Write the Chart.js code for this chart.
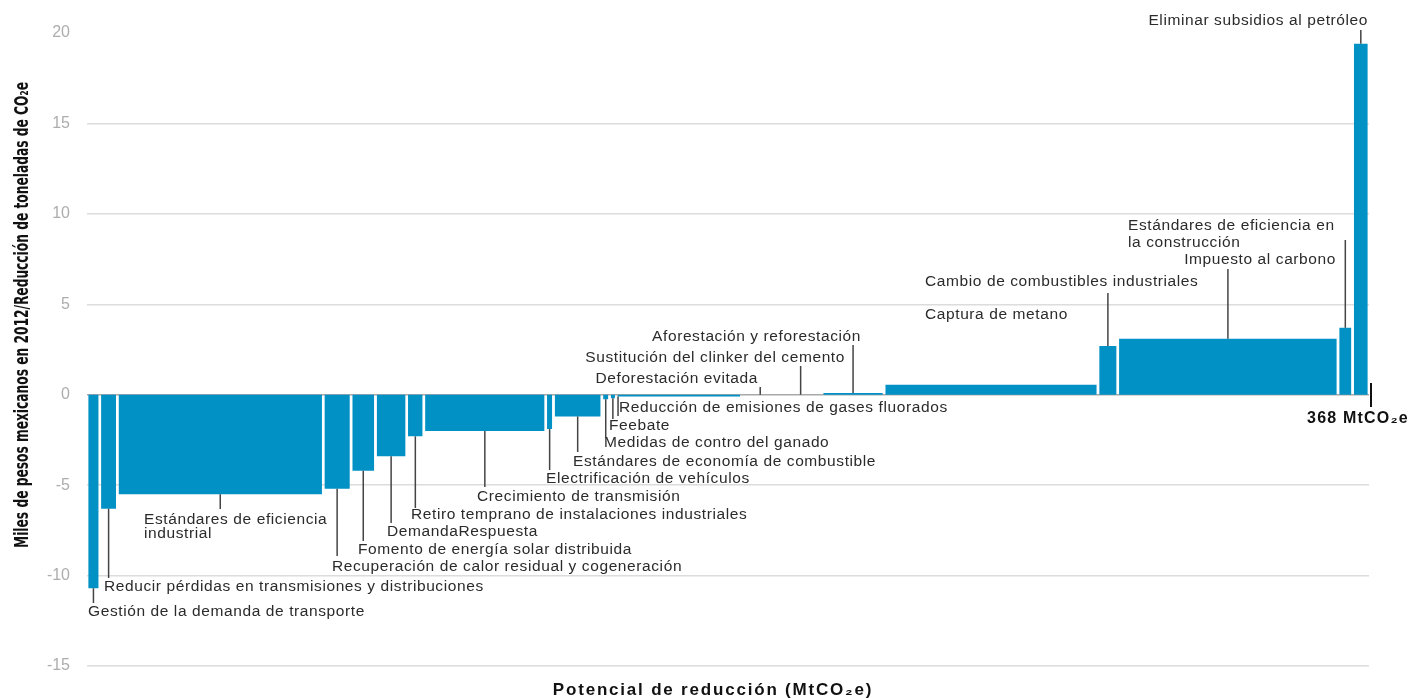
<!DOCTYPE html>
<html>
<head>
<meta charset="utf-8">
<style>
  html, body { margin: 0; padding: 0; background: #fff; }
</style>
<script src="https://cdn.jsdelivr.net/npm/chart.js@4"></script>
</head>
<body>
<canvas id="mac" width="1424" height="698"></canvas>
<script>
// medidas de mitigación, en orden de costo
const medidas = [
  'Gestión de la demanda de transporte',
  'Reducir pérdidas en transmisiones y distribuciones',
  'Estándares de eficiencia\nindustrial',
  'Recuperación de calor residual y cogeneración',
  'Fomento de energía solar distribuida',
  'DemandaRespuesta',
  'Retiro temprano de instalaciones industriales',
  'Crecimiento de transmisión',
  'Electrificación de vehículos',
  'Estándares de economía de combustible',
  'Medidas de contro del ganado',
  'Feebate',
  'Reducción de emisiones de gases fluorados',
  'Deforestación evitada',
  'Sustitución del clinker del cemento',
  'Aforestación y reforestación',
  'Captura de metano',
  'Cambio de combustibles industriales',
  'Impuesto al carbono',
  'Estándares de eficiencia en\nla construcción',
  'Eliminar subsidios al petróleo'
];
// potencial de reducción (MtCO2e)
const potencial = [3.7, 5.0, 59.1, 8.0, 7.0, 9.0, 4.9, 35.0, 2.2, 13.9, 2.2, 1.9, 35.9, 10.9, 12.3, 17.8, 61.4, 5.7, 63.2, 4.2, 4.7];
// costo (miles de pesos 2012 / tCO2e)
const costo = [-10.7, -6.3, -5.5, -5.2, -4.2, -3.4, -2.3, -2.0, -1.9, -1.2, -0.25, -0.2, -0.1, 0, 0, 0.1, 0.55, 2.7, 3.1, 3.7, 19.4];
const yTicks = [-15, -10, -5, 0, 5, 10, 15, 20];

// posición de los rótulos (px): texto y fin de la línea guía
const etiquetas = [
  {tx: 88, ty: 612, ly: 603},
  {tx: 104, ty: 587, ly: 578},
  {tx: 144, ty: 520, ly: 509, lh: 14},
  {tx: 332, ty: 567, ly: 556},
  {tx: 358, ty: 550, ly: 541},
  {tx: 387, ty: 532, ly: 523},
  {tx: 411, ty: 515, ly: 508},
  {tx: 477, ty: 497, ly: 487},
  {tx: 546, ty: 479, ly: 470},
  {tx: 573, ty: 462, ly: 452},
  {tx: 604, ty: 443, ly: 438},
  {tx: 609, ty: 426, ly: 419},
  {tx: 619, ty: 408, ly: 416, lf: 0.015},
  {tx: 758, ty: 379, ly: 387, align: 'right'},
  {tx: 845, ty: 358, ly: 366, align: 'right'},
  {tx: 861, ty: 337, ly: 345, align: 'right'},
  {tx: 925, ty: 315, ly: null},
  {tx: 925, ty: 282, ly: 293},
  {tx: 1336, ty: 260, ly: 269, align: 'right'},
  {tx: 1128, ty: 226, ly: 240, lh: 17},
  {tx: 1368, ty: 21, ly: 30, align: 'right'}
];

const inicio = [];
let acum = 0;
potencial.forEach(p => { inicio.push(acum); acum += p; });
const total = acum;
const hueco = 0.35;

const datasets = medidas.map((m, i) => ({
  label: m,
  data: [
    {x: inicio[i] + hueco, y: costo[i]},
    {x: inicio[i] + potencial[i] - hueco, y: costo[i]}
  ],
  fill: 'origin',
  backgroundColor: '#0191c5',
  borderColor: 'rgba(0,0,0,0)',
  borderWidth: 0,
  pointRadius: 0
}));

const rotulos = {
  id: 'rotulos',
  afterDatasetsDraw(chart) {
    const {ctx, scales: {x, y}} = chart;
    ctx.save();
    ctx.font = '15.5px "Liberation Sans", Arial, sans-serif';
    ctx.letterSpacing = '0.6px';
    ctx.fillStyle = '#2b2b2b';
    ctx.strokeStyle = '#444';
    ctx.lineWidth = 1.5;
    ctx.textBaseline = 'middle';
    etiquetas.forEach((e, i) => {
      if (e.ly !== null) {
        const lx = x.getPixelForValue(inicio[i] + potencial[i] * (e.lf ?? 0.5));
        ctx.beginPath();
        ctx.moveTo(lx, y.getPixelForValue(costo[i]));
        ctx.lineTo(lx, e.ly);
        ctx.stroke();
      }
      ctx.textAlign = e.align || 'left';
      medidas[i].split('\n').forEach((t, k) => ctx.fillText(t, e.tx, e.ty + k * (e.lh || 0)));
    });

    // total acumulado
    const xt = x.getPixelForValue(total);
    ctx.strokeStyle = '#111';
    ctx.lineWidth = 2;
    ctx.beginPath();
    ctx.moveTo(xt + 2, 383);
    ctx.lineTo(xt + 2, 407);
    ctx.stroke();
    ctx.fillStyle = '#111';
    ctx.font = 'bold 16px "Liberation Sans", Arial, sans-serif';
    ctx.letterSpacing = '1.2px';
    ctx.textAlign = 'center';
    ctx.fillText(Math.round(total) + ' MtCO₂e', xt - 11, 419);

    // título eje x
    ctx.font = 'bold 17px "Liberation Sans", Arial, sans-serif';
    ctx.letterSpacing = '1.8px';
    ctx.fillText('Potencial de reducción (MtCO₂e)', 713, 690);

    // título eje y
    ctx.letterSpacing = '0px';
    ctx.translate(23, 315);
    ctx.rotate(-Math.PI / 2);
    ctx.font = 'bold 20px "Liberation Sans Narrow", "DejaVu Sans Condensed", sans-serif';
    const tituloY = 'Miles de pesos mexicanos en 2012/Reducción de toneladas de CO₂e';
    const w = ctx.measureText(tituloY).width;
    ctx.scale(466 / w, 1);
    ctx.fillText(tituloY, 0, 0);
    ctx.restore();
  }
};

new Chart(document.getElementById('mac'), {
  type: 'line',
  data: { datasets: datasets },
  options: {
    responsive: false,
    animation: false,
    layout: { padding: { top: 33, right: 55, bottom: 32, left: 0 } },
    plugins: { legend: { display: false }, tooltip: { enabled: false } },
    scales: {
      x: { type: 'linear', min: 0, max: total, display: false },
      y: {
        min: -15,
        max: 20,
        afterFit: s => { s.width = 87; },
        afterBuildTicks: s => { s.ticks = yTicks.map(v => ({ value: v })); },
        ticks: {
          padding: 17,
          color: '#adadad',
          font: { size: 16, family: '"Liberation Sans", Arial, sans-serif' }
        },
        grid: {
          color: c => c.tick.value === 0 ? '#a9a9a9' : (c.tick.value === 20 ? 'rgba(0,0,0,0)' : '#dcdcdc'),
          lineWidth: 1.5,
          drawTicks: false
        },
        border: { display: false }
      }
    }
  },
  plugins: [rotulos]
});
</script>
</body>
</html>
